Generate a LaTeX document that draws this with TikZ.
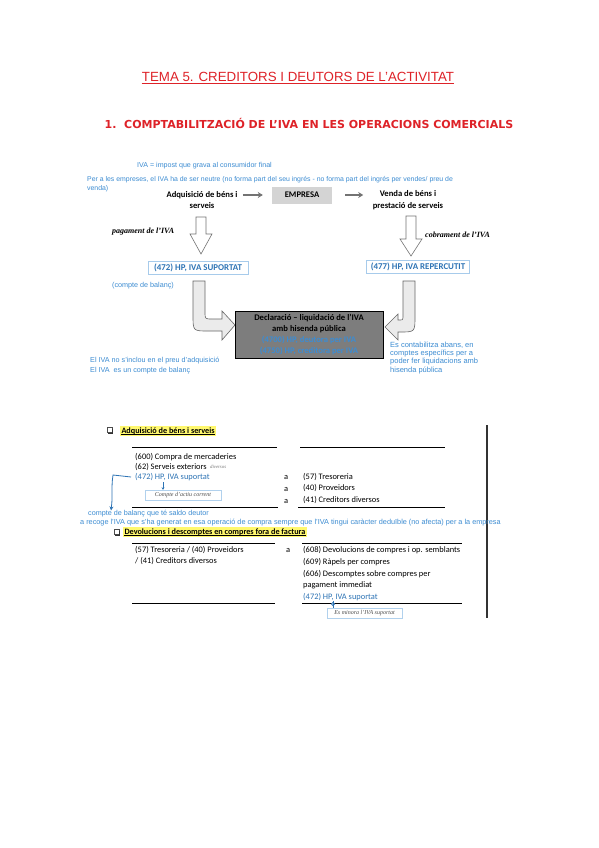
\documentclass[tikz,border=0pt]{standalone}
\usepackage{fontspec}
\setmainfont{Liberation Sans}
\newfontfamily\calib{Carlito}
\newfontfamily\tms{Liberation Serif}
\newfontfamily\dvs{DejaVu Sans}
\usetikzlibrary{arrows.meta}
\definecolor{tred}{RGB}{222,34,40}
\definecolor{lblue}{RGB}{60,140,210}
\definecolor{dblue}{RGB}{46,116,181}
\definecolor{hyel}{RGB}{255,248,110}
\definecolor{declgray}{RGB}{125,125,125}
\definecolor{empgray}{RGB}{212,212,212}
\tikzset{
  txt/.style={inner sep=0pt, anchor=west},
  bnote/.style={txt, text=lblue, font=\fontsize{7.2}{8.4}\selectfont},
  entry/.style={txt, font=\calib\fontsize{8.4}{10}\selectfont},
  flowtxt/.style={inner sep=0pt, align=center, font=\calib\bfseries\fontsize{8.6}{11.5}\selectfont},
  accbox/.style={draw=lblue!45, fill=white, text=dblue, inner sep=0pt, minimum height=13pt,
     font=\calib\bfseries\fontsize{8.9}{10}\selectfont},
  hollow/.style={fill=white, draw=black!55, line width=0.6pt},
  bentarrow/.style={fill=black!8, draw=black!60, line width=0.6pt},
  garrow/.style={draw=black!55, line width=1.3pt, -{Stealth[length=5pt,width=6pt]}},
  itlab/.style={inner sep=0pt, font=\tms\bfseries\itshape\fontsize{8}{9}\selectfont},
  rule/.style={line width=0.7pt, black},
  hilite/.style={txt, fill=hyel, inner sep=1.3pt, font=\calib\bfseries\fontsize{8.2}{9}\selectfont},
  smallbox/.style={draw=lblue!40, fill=white, inner sep=0pt, minimum height=10pt, text=black!70,
     font=\tms\itshape\fontsize{6}{7}\selectfont},
}
\begin{document}
\begin{tikzpicture}[x=1pt,y=-1pt]
\useasboundingbox[fill=white] (0,0) rectangle (599,848);

% ---------- titles
\node[inner sep=0pt, text=tred, font=\fontsize{13.3}{15}\selectfont] (title) at (298,77) {TEMA 5. CREDITORS I DEUTORS DE L’ACTIVITAT};
\draw[tred, line width=0.8pt] ([yshift=-1.8pt]title.base west) -- ([yshift=-1.8pt]title.base east);
\node[inner sep=0pt, text=tred, font=\dvs\bfseries\fontsize{11}{13}\selectfont] (h1) at (309,123) {1.\ \ COMPTABILITZACIÓ DE L’IVA EN LES OPERACIONS COMERCIALS};

% ---------- blue intro notes
\node[bnote, font=\fontsize{7.1}{8}\selectfont] (def) at (137,166) {IVA = impost que grava al consumidor final};
\node[bnote, font=\fontsize{6.9}{8}\selectfont] (neut1) at (87,180) {Per a les empreses, el IVA ha de ser neutre (no forma part del seu ingrés - no forma part del ingrés per vendes/ preu de};
\node[bnote, font=\fontsize{6.9}{8}\selectfont] (neut2) at (87,189) {venda)};

% ---------- flow row
\node[flowtxt] (adq) at (202,200) {Adquisició de béns i\\serveis};
\node[fill=empgray, minimum width=60pt, minimum height=17pt, inner sep=0pt,
      font=\calib\bfseries\fontsize{8.6}{10}\selectfont] (emp) at (302,195) {EMPRESA};
\node[flowtxt] (ven) at (408,200) {Venda de béns i\\prestació de serveis};
\draw[garrow] ([xshift=-29pt]emp.west) -- ([xshift=-9pt]emp.west);
\draw[garrow] ([xshift=13pt]emp.east) -- ([xshift=31pt]emp.east);

% ---------- hollow down arrows
\draw[hollow] (196,217) -- (206,217) -- (206,234) -- (212,234) -- (201,254) -- (190,234) -- (196,234) -- cycle;
\draw[hollow] (406,216) -- (416,216) -- (416,239) -- (422,239) -- (411,256) -- (400,239) -- (406,239) -- cycle;
\node[itlab, anchor=west] (pag) at (112,232) {pagament de l’IVA};
\node[itlab, anchor=west] (cob) at (425,235) {cobrament de l’IVA};

% ---------- account boxes
\node[accbox, minimum width=100pt] (sup) at (198,268) {(472) HP, IVA SUPORTAT};
\node[accbox, minimum width=103pt] (rep) at (418,267) {(477) HP, IVA REPERCUTIT};
\node[bnote] (cbal) at (112,286) {(compte de balanç)};

% ---------- bent arrows
\draw[bentarrow] (193,281) -- (205,281) -- (205,312) .. controls (205,319) .. (212,319) -- (222,319)
   -- (222,311) -- (235,325) -- (222,340) -- (222,331) -- (208,331) .. controls (193,331) .. (193,315) -- cycle;
\draw[bentarrow] (403,281) -- (415,281) -- (415,316) .. controls (415,332) .. (400,332) -- (398,332)
   -- (398,340) -- (385,327) -- (398,314) -- (398,320) -- (400,320) .. controls (403,320) .. (403,314) -- cycle;

% ---------- declaration box
\node[fill=declgray, draw=black, line width=1pt, minimum width=148pt, minimum height=47pt, inner sep=0pt,
      align=center, font=\calib\bfseries\fontsize{8.6}{11}\selectfont] (decl) at (309,335)
  {Declaració – liquidació de l’IVA\\amb hisenda pública\\
   \textcolor{lblue}{(4700) HP, deutora per IVA}\\\textcolor{lblue}{(4750) HP, creditora per IVA}};

\node[bnote] (nin1) at (90,361) {El IVA no s’inclou en el preu d’adquisició};
\node[bnote] (nin2) at (90,371) {El IVA\ \ es un compte de balanç};
\node[bnote, anchor=north west, align=left, font=\fontsize{7.5}{8.4}\selectfont] (nabans) at (390,341.5)
  {Es contabilitza abans, en\\comptes específics per a\\poder fer liquidacions amb\\hisenda pública};

% ================= lower section
\draw[line width=1.3pt, black!80] (487,425) -- (487,618);

% section 1 header
\draw[black!70, line width=0.5pt] (107,427.5) rectangle (112,432.5);
\draw[black!80, line width=0.9pt] (108,433.3) -- (112.8,433.3) -- (112.8,428.5);
\node[hilite] (sec1) at (120,431) {Adquisició de béns i serveis};
\draw[line width=0.5pt] ([yshift=-1.3pt,xshift=1.3pt]sec1.base west) -- ([yshift=-1.3pt,xshift=-1.3pt]sec1.base east);

\draw[rule] (132,447) -- (277,447);
\draw[rule] (300,447) -- (445,447);
\node[entry] (e600) at (135,457) {(600) Compra de mercaderies};
\node[entry] (e62) at (135,467) {(62) Serveis exteriors};
\node[txt, text=black!55, font=\tms\itshape\fontsize{4.8}{5}\selectfont] (dive) at ([xshift=3pt]e62.east) {diversos};
\node[entry, text=dblue] (iva1) at (135,477) {(472) HP, IVA suportat};
\node[smallbox, minimum width=76pt] (act) at (183,495) {Compte d’actiu corrent};
\draw[dblue, line width=0.6pt, -{Stealth[length=2.5pt,width=3pt]}] (163,482) -- (act.north -| 163,0);

\node[entry] (a1) at (284,477) {a};
\node[entry] (a2) at (284,489) {a};
\node[entry] (a3) at (284,501) {a};
\node[entry] (t57) at (303,477) {(57) Tresoreria};
\node[entry] (p40) at (303,488) {(40) Proveidors};
\node[entry] (c41) at (303,500) {(41) Creditors diversos};
\draw[rule] (132,507) -- (278,507);
\draw[rule] (298,507) -- (445,507);

\node[bnote] (bal) at (88,514) {compte de balanç que té saldo deutor};
\node[bnote, font=\fontsize{7.3}{8}\selectfont] (rec) at (80,522.5) {a recoge l’IVA que s’ha generat en esa operació de compra sempre que l’IVA tingui caràcter deduïble (no afecta) per a la empresa};
\draw[dblue, line width=0.8pt, -{Stealth[length=4pt,width=4pt]}] ([xshift=-4pt]iva1.west) -- (113,475) .. controls (111,488) and (113,495) .. (bal.north -| 111,0);

% section 2 header
\draw[black!70, line width=0.5pt] (114,529.5) rectangle (119,534.5);
\draw[black!80, line width=0.9pt] (115,535.3) -- (119.8,535.3) -- (119.8,530.5);
\node[hilite] (sec2) at (123,532) {Devolucions i descomptes en compres fora de factura};
\draw[line width=0.5pt] ([yshift=-1.3pt,xshift=1.3pt]sec2.base west) -- ([yshift=-1.3pt,xshift=-1.3pt]sec2.base east);

\draw[rule] (132,543) -- (275,543);
\draw[rule] (302,543) -- (462,543);
\node[entry] (l1) at (135,550) {(57) Tresoreria / (40) Proveidors};
\node[entry] (l2) at (135,561) {/ (41) Creditors diversos};
\node[entry] (a4) at (286,550) {a};
\node[entry] (r1) at (303,550) {(608) Devolucions de compres i op. semblants};
\node[entry] (r2) at (303,562) {(609) Ràpels per compres};
\node[entry] (r3) at (303,574) {(606) Descomptes sobre compres per};
\node[entry] (r4) at (303,585) {pagament immediat};
\node[entry, text=dblue] (r5) at (303,597) {(472) HP, IVA suportat};
\draw[rule] (132,603) -- (275,603);
\draw[rule] (302,603) -- (462,603);
\node[smallbox, minimum width=75pt] (minora) at (364.5,613) {Es minora l’IVA suportat};
\draw[dblue, line width=0.6pt, fill=lblue!30] (333,604) circle (1.6pt);
\draw[dblue, line width=0.5pt] (r5.south -| 333,0) -- (minora.north -| 333,0);
\end{tikzpicture}
\end{document}
